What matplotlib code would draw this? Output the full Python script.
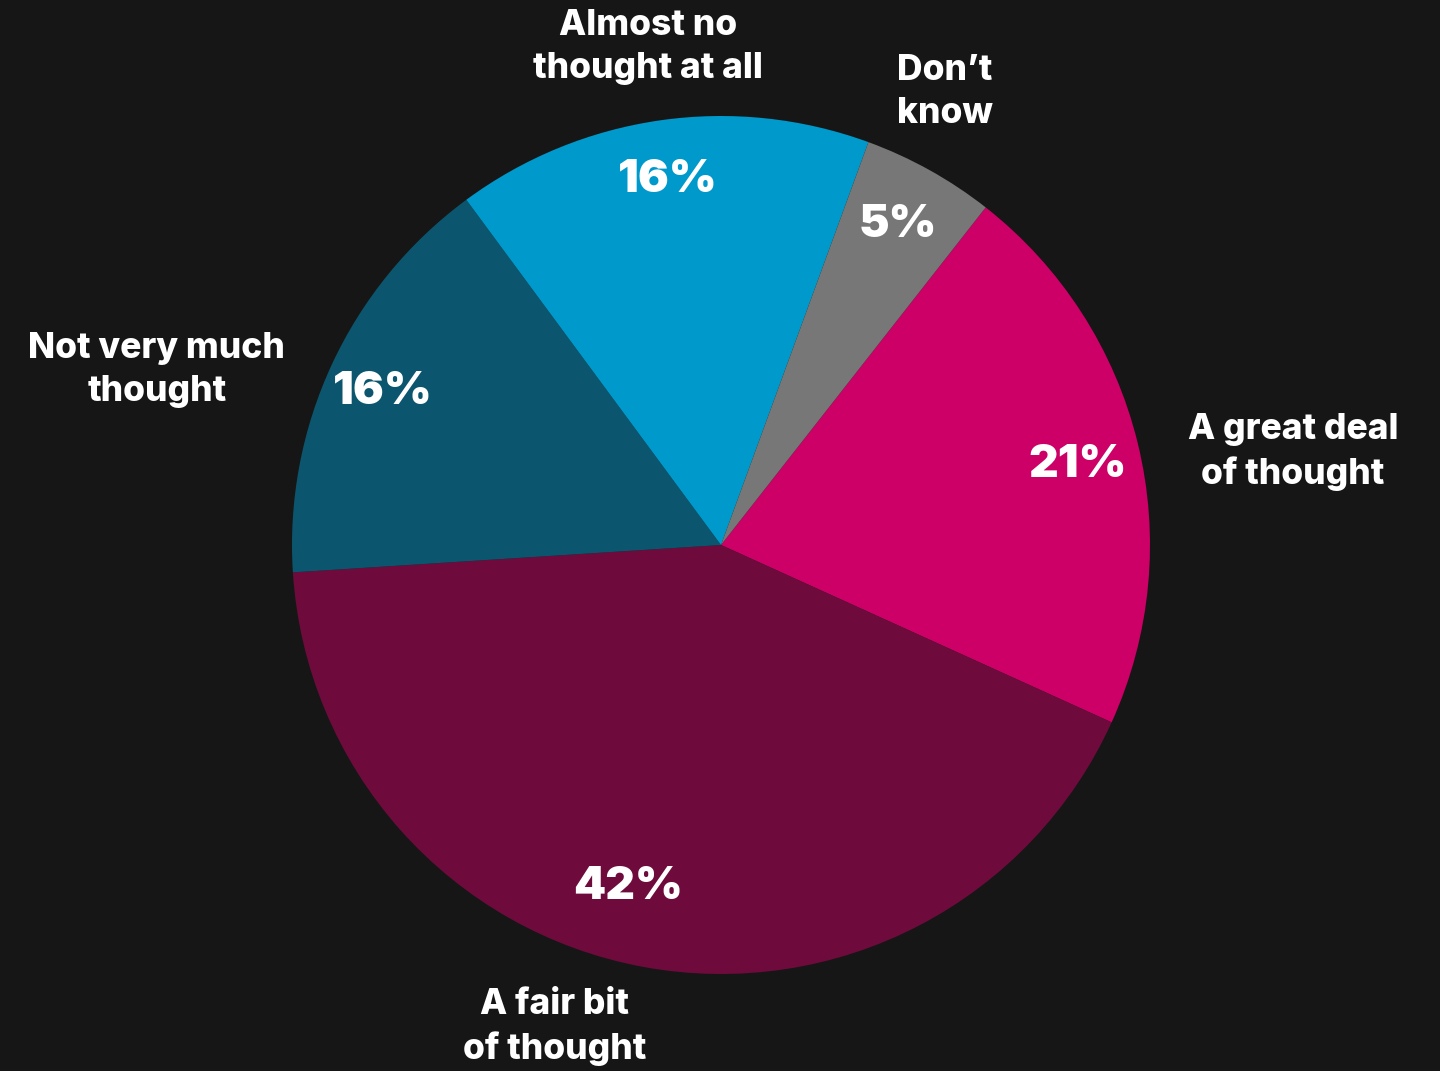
import numpy as np
import matplotlib
matplotlib.use("Agg")
import matplotlib.pyplot as plt

categories = ["A great deal\nof thought", "A fair bit\nof thought", "Not very much\nthought",
              "Almost no\nthought at all", "Don\u2019t\nknow"]
values = [21.2, 42.2, 15.9, 15.7, 5.0]
colors = ["#CC0066", "#6E0B3C", "#0B566E", "#0099CC", "#777777"]

BG = "#161616"
plt.rcParams['font.family'] = ['Inter', 'DejaVu Sans']

fig = plt.figure(figsize=(14.4, 10.71), dpi=100, facecolor=BG)
ax = fig.add_axes([0, 0, 1, 1])
ax.set_facecolor(BG)

start = 51.9
wedges, _ = ax.pie(values, colors=colors, startangle=start, counterclock=False,
                   radius=1.0, wedgeprops=dict(linewidth=0))

# outer label centres and percentage label centres, in pie-radius units
label_pos = [(1.333, 0.217), (-0.387, -1.124), (-1.315, 0.408), (-0.170, 1.161), (0.522, 1.056)]
pct_pos = [(0.832, 0.186), (-0.217, -0.797), (-0.788, 0.357), (-0.124, 0.851), (0.413, 0.746)]

for v, lab, (lx, ly), (px, py) in zip(values, categories, label_pos, pct_pos):
    ax.text(px, py, f"{v:.0f}%", color="white", fontsize=33, fontweight="black",
            ha="center", va="center")
    ax.text(lx, ly, lab, color="white", fontsize=25.5, fontweight="heavy",
            ha="center", va="center", multialignment="center", linespacing=1.38)

ax.set_xlim(-721 / 429, (1440 - 721) / 429)
ax.set_ylim(-(1071 - 545) / 429, 545 / 429)
ax.axis("off")
fig.savefig("out.png", dpi=100, facecolor=BG)
